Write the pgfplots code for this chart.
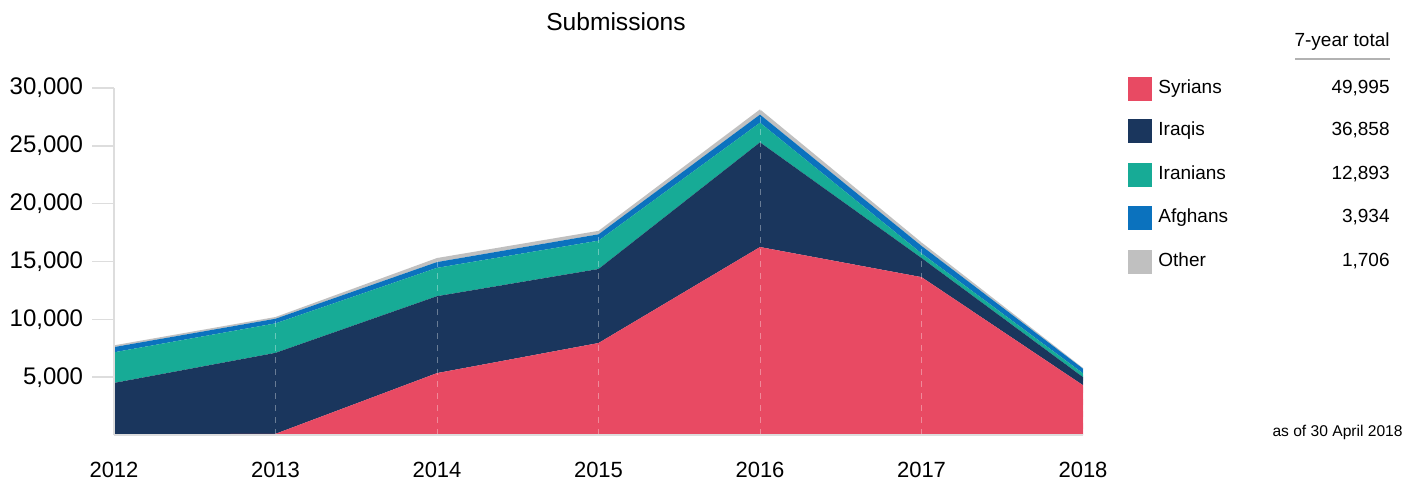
\documentclass[border=0pt]{standalone}
\usepackage{fontspec}
\setmainfont{Liberation Sans}
\usepackage{pgfplots}
\usepackage{pgfplotstable}
\pgfplotsset{compat=1.18}
\definecolor{syr}{HTML}{E84A63}
\definecolor{irq}{HTML}{1A365D}
\definecolor{irn}{HTML}{17AB96}
\definecolor{afg}{HTML}{0B72BE}
\definecolor{oth}{HTML}{C0C0C0}
\definecolor{axgray}{HTML}{DDDDDD}
\pgfplotstableread{
year syr irq irn afg oth
2012 50 4450 2650 450 150
2013 100 7000 2550 400 150
2014 5350 6650 2450 500 350
2015 7950 6400 2450 550 300
2016 16250 9050 1700 700 450
2017 13650 1650 400 650 300
2018 4300 700 330 400 60
}\data
\tikzset{leg/.style={inner sep=0pt, font=\fontsize{9.5}{11}\selectfont, text height=7pt, text depth=2pt}}
\begin{document}
\begin{tikzpicture}
\useasboundingbox (0pt,0pt) rectangle (709.5pt,240pt);
\begin{axis}[
  at={(57pt,22.5pt)}, anchor=south west,
  scale only axis, width=484.5pt, height=173.5pt,
  xmin=2012, xmax=2018, ymin=0, ymax=30000,
  stack plots=y, axis on top,
  axis x line=bottom, axis y line=left,
  axis line style={-, draw=axgray, line width=0.8pt},
  xtick={2012,2013,2014,2015,2016,2017,2018},
  xticklabels={2012,2013,2014,2015,2016,2017,2018},
  ytick={5000,10000,15000,20000,25000,30000},
  scaled y ticks=false,
  /pgf/number format/assume math mode=true,
  yticklabel style={/pgf/number format/1000 sep={,}, font=\fontsize{12}{14}\selectfont, xshift=-1pt},
  xticklabel style={font=\fontsize{11}{13}\selectfont, yshift=1pt},
  tick align=outside, major tick length=11pt,
  ytick style={draw=axgray, line width=0.8pt},
  xtick style={draw=none},
  xmajorgrids, grid style={dashed, white, opacity=0.35, line width=0.5pt},
]
\addplot [fill=syr, draw=none] table [x=year, y=syr] {\data} \closedcycle;
\addplot [fill=irq, draw=none] table [x=year, y=irq] {\data} \closedcycle;
\addplot [fill=irn, draw=none] table [x=year, y=irn] {\data} \closedcycle;
\addplot [fill=afg, draw=none] table [x=year, y=afg] {\data} \closedcycle;
\addplot [fill=oth, draw=none] table [x=year, y=oth] {\data} \closedcycle;
\end{axis}
\node[font=\fontsize{12.3}{14}\selectfont] at (308pt,229pt) {Submissions};
\node[leg, anchor=east] at (695pt,219pt) {7-year total};
\draw[gray!60, line width=1pt] (647.5pt,210.5pt) -- (695pt,210.5pt);
\foreach \c/\n/\v/\y in {syr/Syrians/{49,995}/195.5, irq/Iraqis/{36,858}/174.5, irn/Iranians/{12,893}/152.5, afg/Afghans/{3,934}/131, oth/Other/{1,706}/109}{
  \fill[\c] (564pt,\y pt-6pt) rectangle (576pt,\y pt+6pt);
  \node[leg, anchor=west] at (579pt,\y pt) {\n};
  \node[leg, anchor=east] at (695pt,\y pt) {\v};
}
\node[anchor=east, inner sep=0pt, font=\fontsize{7.8}{9}\selectfont] at (701.5pt,24pt) {as of 30 April 2018};
\end{tikzpicture}
\end{document}
